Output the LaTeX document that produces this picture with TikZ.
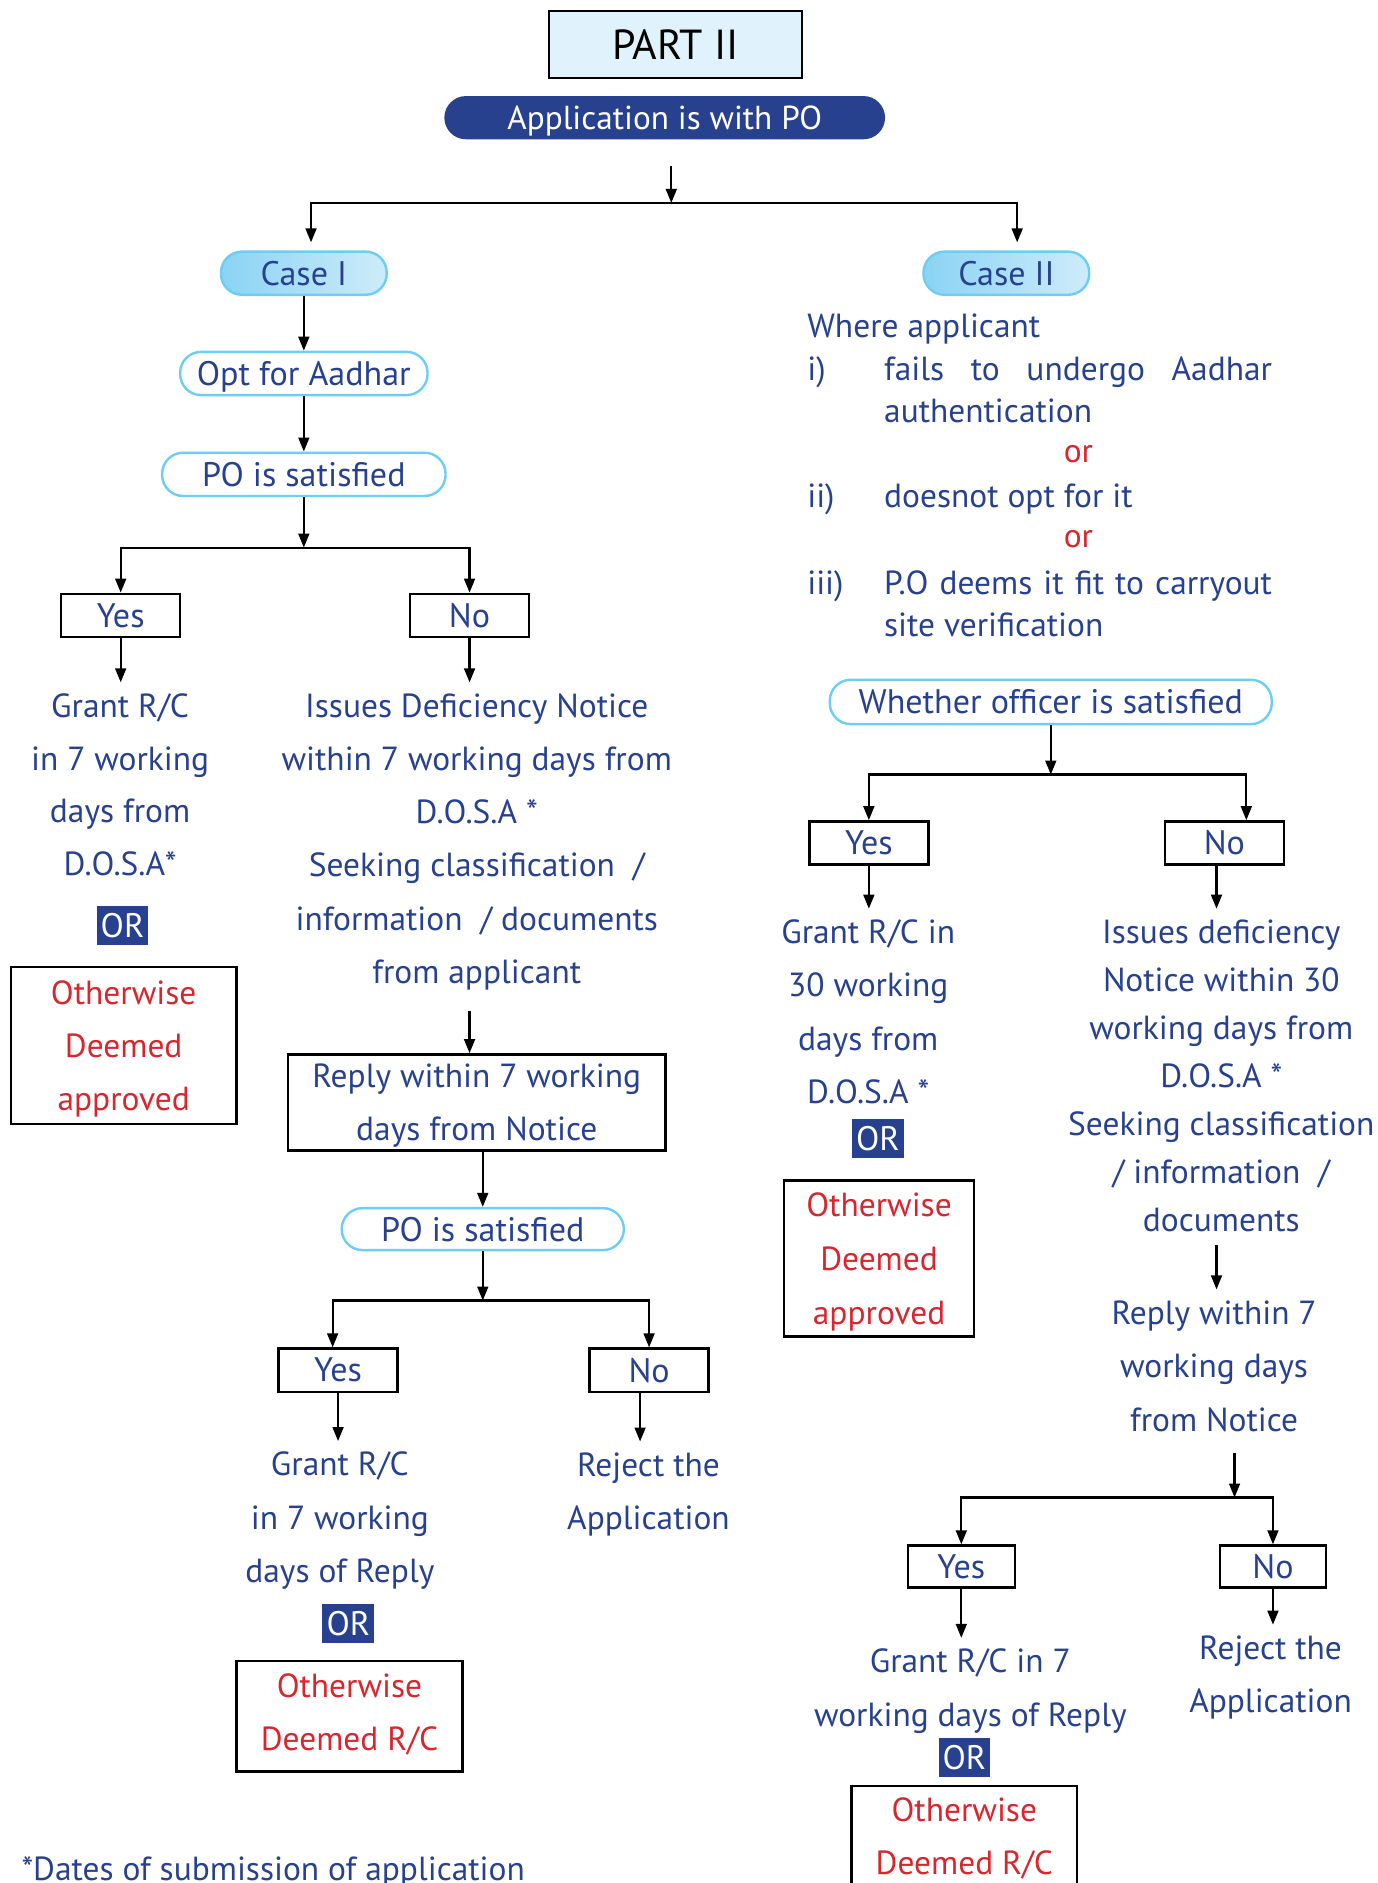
\documentclass[tikz,border=0pt]{standalone}
\usepackage{fontspec}
\setmainfont{PT Sans}
\usetikzlibrary{arrows.meta,calc}
\definecolor{dblue}{RGB}{39,65,143}
\definecolor{dred}{RGB}{216,38,46}
\definecolor{lblue}{RGB}{109,205,244}
\definecolor{partfill}{RGB}{224,243,252}
\definecolor{caseleft}{RGB}{138,211,244}
\definecolor{caseright}{RGB}{206,236,250}

\begin{document}
\begin{tikzpicture}[x=0.6pt,y=-0.6pt,line width=1.1pt,
  >={Triangle[length=7pt,width=5.4pt]},
  txt/.style={text=dblue,align=center,inner sep=2pt,font=\fontsize{16.7}{#1}\selectfont},
  txt/.default=26.4pt,
  cline/.style={txt,anchor=west,text height=12pt,text depth=0pt},
  pill/.style={draw=lblue,line width=1.2pt,rounded corners=10.5pt,minimum height=21.6pt,
    inner sep=0pt,text=dblue,font=\fontsize{17}{20}\selectfont,text height=12pt,text depth=0pt},
  casepill/.style={pill,left color=caseleft,right color=caseright},
  ansbox/.style={draw=black,line width=1.2pt,minimum width=59.4pt,minimum height=21.6pt,
    inner sep=0pt,text=dblue,font=\fontsize{17}{20}\selectfont},
  orbox/.style={fill=dblue,text=white,minimum width=25.8pt,minimum height=19.4pt,
    inner sep=0pt,font=\fontsize{17}{20}\selectfont},
  endbox/.style={draw=black,line width=1.2pt,text=dred,align=center,inner sep=0pt,
    text depth=0pt,font=\fontsize{16.7}{#1}\selectfont},
  endbox/.default=26.4pt]
\useasboundingbox (0,0) rectangle (1147,1568);

% top
\node[draw=black,line width=1.2pt,fill=partfill,minimum width=126.6pt,minimum height=33.6pt,
  font=\fontsize{21}{24}\selectfont] (part) at (562.5,37) {PART II};
\node[fill=dblue,rounded corners=10.8pt,minimum width=220.2pt,minimum height=21.6pt,
  inner sep=0pt,text=white,text height=12pt,text depth=0pt,
  font=\fontsize{16.6}{19}\selectfont] (app) at (553.5,98) {Application is with PO};
\coordinate (s0) at (559,169);
\draw[->,shorten <=13pt] (app.south -| s0) -- (s0);

\node[casepill,minimum width=82.8pt] (case1) at (253,227.5) {Case I};
\node[casepill,minimum width=82.8pt] (case2) at (838,227.5) {Case II};
\draw[->,shorten >=4pt] (s0) -| ([xshift=3.6pt]case1.north);
\draw[->,shorten >=4pt] (s0) -| ([xshift=5.4pt]case2.north);

% case I
\node[pill,minimum width=123.6pt] (opt) at (253,311) {Opt for Aadhar};
\node[pill,minimum width=141.6pt] (po1) at (253,395) {PO is satisfied};
\coordinate (s1) at (253,456);
\draw[->] (case1) -- (opt);
\draw[->] (opt) -- (po1);
\draw[->] (po1) -- (s1);

\node[ansbox] (yes1) at (100.5,512.5) {Yes};
\node[ansbox] (no1) at (391,512.5) {No};
\draw[->] (s1) -| (yes1);
\draw[->] (s1) -| (no1);

\node[txt] (grant1) at (100,653.5) {Grant R/C\\in 7 working\\days from\\D.O.S.A*};
\node[orbox] (or1) at (102,771) {OR};
\node[endbox,minimum width=112.8pt,minimum height=78.6pt] (deem1) at (103,870.5) {Otherwise\\Deemed\\approved};
\draw[->,shorten >=3pt] (yes1) -- (yes1 |- grant1.north);

\node[txt=26.6pt] (issue1) at (397,701) {Issues Deficiency Notice\\within 7 working days from\\D.O.S.A *\\Seeking classification\ \ /\\information\ \ / documents\\from applicant};
\draw[->,shorten >=3pt] (no1) -- (no1 |- issue1.north);

\node[draw=black,line width=1.2pt,minimum width=188.4pt,minimum height=48pt,inner sep=0pt,
  txt,text depth=0pt] (reply1) at (397,918) {Reply within 7 working\\days from Notice};
\draw[->,shorten <=8pt] (issue1.south -| no1) -- (reply1.north -| no1);

\node[pill,minimum width=141pt,minimum height=21pt] (po2) at (402,1023.5) {PO is satisfied};
\coordinate (s2) at (402,1083);
\draw[->] (reply1.south -| po2) -- (po2);
\draw[->] (po2) -- (s2);

\node[ansbox] (yes2) at (281.5,1141) {Yes};
\node[ansbox] (no2) at (540.5,1141) {No};
\draw[->] (s2) -| ([xshift=-2.7pt]yes2.north);
\draw[->] (s2) -| (no2);

\node[txt=26.7pt] (grant2) at (283,1266.5) {Grant R/C\\in 7 working\\days of Reply};
\node[orbox] (or2) at (290,1352) {OR};
\node[endbox,text depth=3.6pt,minimum width=112.8pt,minimum height=55.2pt] (deem2) at (291,1429) {Otherwise\\Deemed R/C};
\draw[->,shorten >=3pt] (yes2) -- (yes2 |- grant2.north);

\node[txt=26.7pt] (reject1) at (540,1244.5) {Reject the\\Application};
\draw[->,shorten >=3pt] ([xshift=-4.5pt]no2.south) -- ([xshift=-4.5pt]no2.south |- reject1.north);

\node[txt,anchor=base west,inner sep=0pt,font=\fontsize{16.7}{19}\selectfont] (note) at (17,1566) {*Dates of submission of application};

% case II
\node[cline] (where) at (668,271) {Where applicant};
\node[cline] (lbl1) at (668,307) {i)};
\node[cline] (item1) at (732,307) {\makebox[193.8pt][s]{fails to undergo Aadhar}};
\node[cline] (item1b) at (732,342) {authentication};
\node[cline,anchor=center,text=dred] (ora) at (898,375) {or};
\node[cline] (lbl2) at (668,413) {ii)};
\node[cline] (item2) at (732,413) {doesnot opt for it};
\node[cline,anchor=center,text=dred] (orb) at (898,446) {or};
\node[cline] (lbl3) at (668,485) {iii)};
\node[cline] (item3) at (732,485) {\makebox[193.8pt][s]{P.O deems it fit to carryout}};
\node[cline] (item3b) at (732,520) {site verification};

\node[pill,minimum width=220.8pt,minimum height=22.2pt] (whether) at (875,584.5) {Whether officer is satisfied};
\coordinate (s3) at (875,645);
\draw[->] (whether) -- (s3);

\node[ansbox] (yes3) at (723.5,702) {Yes};
\node[ansbox] (no3) at (1019.5,702) {No};
\draw[->] (s3) -| (yes3);
\draw[->] (s3) -| ([xshift=11pt]no3.north);

\node[txt=26.6pt] (grant3) at (723,842.5) {Grant R/C in\\30 working\\days from\\D.O.S.A *};
\node[orbox] (or3) at (731,948) {OR};
\node[endbox=27pt,minimum width=94.8pt,minimum height=78pt] (deem3) at (732,1048) {Otherwise\\Deemed\\approved};
\draw[->,shorten >=3pt] (yes3) -- (yes3 |- grant3.north);

\node[txt=24pt] (issue3) at (1017,896) {Issues deficiency\\Notice within 30\\working days from\\D.O.S.A *\\Seeking classification\\/ information\ \ /\\documents};
\draw[->,shorten >=3pt] ([xshift=-3.9pt]no3.south) -- ([xshift=-3.9pt]no3.south |- issue3.north);

\node[txt=26.7pt] (reply3) at (1011,1137.5) {Reply within 7\\working days\\from Notice};
\draw[->,shorten <=4pt,shorten >=3pt] ([xshift=-2.4pt]issue3.south) -- ([xshift=-2.4pt]issue3.south |- reply3.north);

\coordinate (s4) at (1028,1247);
\draw[->,shorten <=8pt] (reply3.south -| s4) -- (s4);

\node[ansbox,minimum width=53.4pt,minimum height=21pt] (yes4) at (800.5,1304.5) {Yes};
\node[ansbox,minimum width=52.8pt,minimum height=21pt] (no4) at (1060,1304.5) {No};
\draw[->] (s4) -| (yes4);
\draw[->] (s4) -| (no4);

\node[txt=27pt] (grant4) at (808,1408.5) {Grant R/C in 7\\working days of Reply};
\node[orbox] (or4) at (803,1463.5) {OR};
\node[endbox,text depth=4.8pt,minimum width=112.8pt,minimum height=55.2pt] (deem4) at (803,1533) {Otherwise\\Deemed R/C};
\draw[->,shorten >=3pt] (yes4) -- (yes4 |- grant4.north);

\node[txt=26.7pt] (reject2) at (1058,1397) {Reject the\\Application};
\draw[->,shorten >=3pt] (no4) -- (no4 |- reject2.north);
\end{tikzpicture}
\end{document}
